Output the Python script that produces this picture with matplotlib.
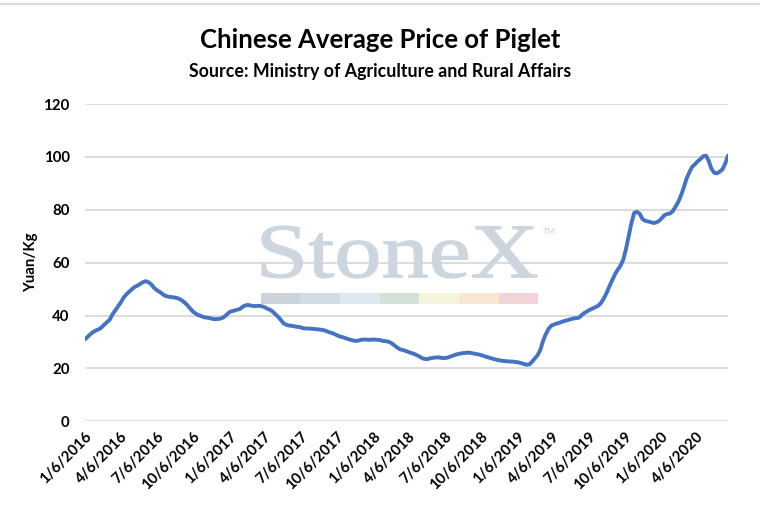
import matplotlib
matplotlib.use("Agg")
import matplotlib.pyplot as plt
import matplotlib.patches as mpatches
from matplotlib.textpath import TextPath
from matplotlib.font_manager import FontProperties
from matplotlib.transforms import Affine2D, IdentityTransform
import numpy as np
import pandas as pd

plt.rcParams['font.family'] = ['Lato', 'DejaVu Sans']

start_date = "2016-01-06"
tick_labels = ["1/6/2016", "4/6/2016", "7/6/2016", "10/6/2016",
               "1/6/2017", "4/6/2017", "7/6/2017", "10/6/2017",
               "1/6/2018", "4/6/2018", "7/6/2018", "10/6/2018",
               "1/6/2019", "4/6/2019", "7/6/2019", "10/6/2019",
               "1/6/2020", "4/6/2020"]

# weekly average piglet price, Yuan/Kg
prices_2016 = [31.0, 32.0, 33.0, 33.8, 34.4, 34.8, 35.5, 36.6, 37.5, 38.5,
               40.5, 42.0, 43.5, 45.0, 46.8, 48.0, 49.0, 50.0, 50.8, 51.3,
               52.0, 52.6, 53.0, 52.6, 51.8, 50.5, 49.6, 49.0, 48.2, 47.5,
               47.2, 47.0, 46.9, 46.7, 46.4, 45.8, 45.0, 44.0, 42.8, 41.6,
               40.8, 40.2, 39.8, 39.4, 39.2, 39.1, 38.8, 38.6, 38.7, 38.8,
               39.2, 40.0]
prices_2017 = [41.0, 41.6, 41.8, 42.2, 42.4, 43.2, 43.8, 44.0, 43.8, 43.6,
               43.6, 43.7, 43.5, 43.2, 42.6, 42.2, 41.5, 40.5, 39.5, 38.3,
               37.0, 36.5, 36.2, 36.1, 35.9, 35.7, 35.6, 35.2, 35.1, 35.1,
               35.0, 34.9, 34.8, 34.7, 34.6, 34.3, 33.9, 33.5, 33.2, 32.7,
               32.2, 31.9, 31.6, 31.2, 30.9, 30.6, 30.4, 30.5, 30.8, 30.9,
               30.9, 30.8]
prices_2018 = [30.9, 30.9, 30.8, 30.7, 30.4, 30.3, 30.1, 29.6, 28.8, 28.0,
               27.3, 27.0, 26.7, 26.3, 25.9, 25.6, 25.1, 24.6, 24.0, 23.6,
               23.5, 23.8, 24.0, 24.1, 24.2, 24.0, 23.9, 24.0, 24.3, 24.7,
               25.1, 25.4, 25.6, 25.8, 25.9, 26.0, 25.8, 25.6, 25.4, 25.2,
               24.9, 24.5, 24.2, 23.9, 23.6, 23.3, 23.1, 22.9, 22.8, 22.7,
               22.6, 22.6]
prices_2019 = [22.4, 22.3, 22.0, 21.7, 21.4, 21.5, 22.5, 23.8, 25.0, 27.0,
               30.5, 33.0, 35.0, 36.2, 36.6, 37.0, 37.3, 37.7, 38.0, 38.3,
               38.6, 38.9, 39.0, 39.2, 40.2, 41.0, 41.6, 42.2, 42.7, 43.2,
               43.7, 44.8, 46.5, 48.5, 51.0, 53.3, 55.5, 57.3, 58.8, 61.0,
               65.0, 70.0, 75.0, 78.8, 79.2, 78.5, 76.5, 75.8, 75.6, 75.3,
               75.0, 75.2]
prices_2020 = [75.8, 76.8, 78.0, 78.4, 78.6, 79.5, 81.2, 83.0, 85.5, 88.5,
               91.8, 94.2, 96.2, 97.2, 98.3, 99.2, 100.2, 100.5, 98.5, 95.5,
               94.0, 93.8, 94.4, 95.3, 97.5, 100.5]

prices = prices_2016 + prices_2017 + prices_2018 + prices_2019 + prices_2020
dates = pd.date_range(start_date, periods=len(prices), freq="7D")
tick_dates = pd.to_datetime(tick_labels, format="%m/%d/%Y")

y_ticks = [0, 20, 40, 60, 80, 100, 120]

W, H = 760, 509
fig = plt.figure(figsize=(W / 100, H / 100), dpi=100)
ax = fig.add_axes([85 / W, 1 - 421.3 / H, (728 - 85) / W, (421.3 - 104) / H])

ax.plot(dates, prices, color="#4472C4", lw=2.8, solid_capstyle="round",
        solid_joinstyle="round", zorder=5)

ax.set_xlim(dates[0], dates[-1])
ax.set_ylim(0, 120)
ax.set_yticks(y_ticks)
ax.set_yticklabels([str(v) for v in y_ticks], fontsize=10.8, fontweight="bold")
ax.set_xticks(tick_dates)
ax.set_xticklabels(tick_labels, rotation=45, ha="right", rotation_mode="anchor",
                   fontsize=10.8, fontweight="bold")
ax.tick_params(axis="both", length=0)
ax.tick_params(axis="y", pad=11)
ax.tick_params(axis="x", pad=6)
ax.grid(axis="y", color="#D9D9D9", lw=1.3)
ax.set_axisbelow(True)
for s in ax.spines.values():
    s.set_visible(False)
ax.set_ylabel("Yuan/Kg", fontsize=10.8, fontweight="bold", labelpad=4)

# watermark
tp = TextPath((0, 0), "StoneX", size=1, prop=FontProperties(family="Liberation Serif"))
ext = tp.get_extents()
bx0, bx1 = 262, 537
by0, by1 = H - 278, H - 226
sx = (bx1 - bx0) / ext.width
sy = (by1 - by0) / ext.height
tr = Affine2D().translate(-ext.x0, -ext.y0).scale(sx, sy).translate(bx0, by0)
wm = mpatches.PathPatch(tr.transform_path(tp), transform=IdentityTransform(),
                        facecolor="#CDD5DF", edgecolor="#CDD5DF", lw=0.9, zorder=1)
fig.patches.append(wm)
fig.text(543 / W, 1 - 231 / H, "TM", fontsize=6, color="#CDD5DF",
         ha="left", va="center")
bar_colors = ["#CDD3DB", "#D2DCE5", "#DCE9F2", "#D3E2D9", "#F5F4DC",
              "#F8E8D2", "#F0D4D7"]
x0, x1 = 260.7, 538.3
seg = (x1 - x0) / len(bar_colors)
for i, c in enumerate(bar_colors):
    fig.patches.append(mpatches.Rectangle(((x0 + i * seg) / W, 1 - 304.3 / H),
                                          seg / W, 11 / H, transform=fig.transFigure,
                                          facecolor=c, edgecolor="none", zorder=1))

fig.text(0.5, 1 - 40 / H, "Chinese Average Price of Piglet",
         ha="center", va="center", fontsize=18.5, fontweight="bold")
fig.text(0.5, 1 - 71 / H, "Source: Ministry of Agriculture and Rural Affairs",
         ha="center", va="center", fontsize=12.8, fontweight="bold")

fig.lines.append(plt.Line2D([0, 1], [1 - 3.5 / H, 1 - 3.5 / H], transform=fig.transFigure,
                            color="#DCDCDC", lw=1.6))

fig.savefig("out.png", dpi=100)
